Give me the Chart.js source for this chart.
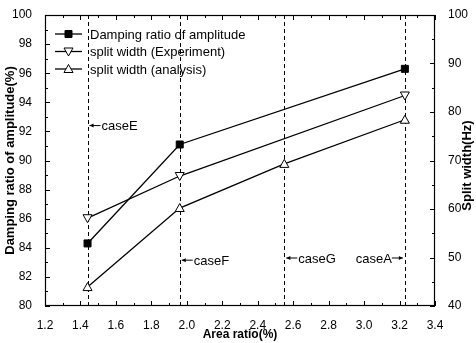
<!DOCTYPE html>
<html>
<head>
<meta charset="utf-8">
<script src="https://cdn.jsdelivr.net/npm/chart.js@4/dist/chart.umd.min.js"></script>
<style>
  html, body { margin: 0; padding: 0; background: #fff; }
  #wrap { width: 476px; height: 343px; }
</style>
</head>
<body>
<div id="wrap"><canvas id="grafico"></canvas></div>
<script>
// datos
const areaRatio = [1.44, 1.96, 3.23];
const dampingRatio = [84.3, 91.1, 96.3];
const splitExperiment = [58.1, 66.8, 83.4];
const areaRatioAnalysis = [1.44, 1.96, 2.55, 3.23];
const splitAnalysis = [43.9, 60.2, 69.3, 78.4];

const caseNames = ['caseE', 'caseF', 'caseG', 'caseA'];
const casePos = [1.44, 1.96, 2.55, 3.23];
const caseLabelY = [92.4, 83.15, 83.3, 83.3]; // en unidades del eje izquierdo
const caseArrowDir = ['left', 'left', 'left', 'right'];

const legendNames = ['Damping ratio of amplitude', 'split width (Experiment)', 'split width (analysis)'];
const rightTitle = 'Split width(Hz)';

const FONT = '"Liberation Sans", Arial, sans-serif';

const pts = (xs, ys) => xs.map((x, i) => ({ x, y: ys[i] }));

function marcador(ctx, tipo, x, y) {
    ctx.save();
    ctx.lineWidth = 1;
    ctx.strokeStyle = '#000';
    ctx.fillStyle = tipo === 'rect' ? '#000' : '#fff';
    ctx.beginPath();
    if (tipo === 'rect') {
        ctx.rect(x - 3.5, y - 3.5, 7, 7);
    } else if (tipo === 'down') {
        ctx.moveTo(x - 4.5, y - 3.5); ctx.lineTo(x + 4.5, y - 3.5); ctx.lineTo(x, y + 4.5); ctx.closePath();
    } else {
        ctx.moveTo(x - 4.5, y + 3.5); ctx.lineTo(x + 4.5, y + 3.5); ctx.lineTo(x, y - 4.5); ctx.closePath();
    }
    ctx.fill();
    ctx.stroke();
    ctx.restore();
}

const extras = {
    id: 'extras',
    beforeDatasetsDraw(chart) {
        const ctx = chart.ctx;
        const a = chart.chartArea;
        const xs = chart.scales.x;
        ctx.save();
        ctx.strokeStyle = '#000';
        ctx.lineWidth = 1;
        ctx.setLineDash([4, 3]);
        casePos.forEach(v => {
            const px = Math.round(xs.getPixelForValue(v)) + 0.5;
            ctx.beginPath();
            ctx.moveTo(px, a.top);
            ctx.lineTo(px, a.bottom);
            ctx.stroke();
        });
        ctx.restore();
    },
    afterDatasetsDraw(chart) {
        const ctx = chart.ctx;
        const a = chart.chartArea;
        const xs = chart.scales.x, yl = chart.scales.y, yr = chart.scales.y2;
        ctx.save();
        ctx.strokeStyle = '#000';
        ctx.lineWidth = 1.2;
        ctx.strokeRect(a.left + 0.5, a.top + 0.5, a.right - a.left - 1, a.bottom - a.top - 1);

        // ticks hacia adentro
        ctx.lineWidth = 1;
        ctx.beginPath();
        for (let i = 0; i <= 22; i++) {
            const v = 1.2 + i * 0.1;
            const px = Math.round(xs.getPixelForValue(v)) + 0.5;
            const len = i % 2 === 0 ? 5 : 3;
            ctx.moveTo(px, a.bottom); ctx.lineTo(px, a.bottom - len);
            ctx.moveTo(px, a.top); ctx.lineTo(px, a.top + len);
        }
        for (let v = 80; v <= 100; v++) {
            const py = Math.round(yl.getPixelForValue(v)) + 0.5;
            const len = v % 2 === 0 ? 5 : 3;
            ctx.moveTo(a.left, py); ctx.lineTo(a.left + len, py);
        }
        for (let v = 40; v <= 100; v += 5) {
            const py = Math.round(yr.getPixelForValue(v)) + 0.5;
            const len = v % 10 === 0 ? 5 : 3;
            ctx.moveTo(a.right, py); ctx.lineTo(a.right - len, py);
        }
        ctx.stroke();

        // titulo derecho, de abajo hacia arriba
        ctx.save();
        ctx.translate(467, (a.top + a.bottom) / 2 + 5);
        ctx.rotate(-Math.PI / 2);
        ctx.font = 'bold 13px ' + FONT;
        ctx.fillStyle = '#000';
        ctx.textAlign = 'center';
        ctx.textBaseline = 'middle';
        ctx.fillText(rightTitle, 0, 0);
        ctx.restore();

        // leyenda
        ctx.font = '13px ' + FONT;
        ctx.fillStyle = '#000';
        ctx.textBaseline = 'middle';
        const tipos = ['rect', 'down', 'up'];
        legendNames.forEach((t, i) => {
            const y = 34 + i * 17.5;
            ctx.lineWidth = 1.3;
            ctx.beginPath();
            ctx.moveTo(55, y); ctx.lineTo(82, y);
            ctx.stroke();
            marcador(ctx, tipos[i], 68.5, y);
            ctx.fillText(t, 90, y + 1);
        });

        // etiquetas de casos
        caseNames.forEach((n, i) => {
            const px = xs.getPixelForValue(casePos[i]);
            const py = yl.getPixelForValue(caseLabelY[i]);
            ctx.lineWidth = 1;
            ctx.beginPath();
            if (caseArrowDir[i] === 'left') {
                ctx.moveTo(px + 2, py); ctx.lineTo(px + 13, py);
                ctx.stroke();
                ctx.beginPath();
                ctx.moveTo(px + 2, py); ctx.lineTo(px + 6, py - 2); ctx.lineTo(px + 6, py + 2); ctx.closePath();
                ctx.fill();
                ctx.textAlign = 'left';
                ctx.fillText(n, px + 14, py + 1);
            } else {
                ctx.moveTo(px - 2, py); ctx.lineTo(px - 13, py);
                ctx.stroke();
                ctx.beginPath();
                ctx.moveTo(px - 2, py); ctx.lineTo(px - 6, py - 2); ctx.lineTo(px - 6, py + 2); ctx.closePath();
                ctx.fill();
                ctx.textAlign = 'right';
                ctx.fillText(n, px - 13, py + 1);
            }
        });
        ctx.restore();
    }
};

const estilo = (tipo) => ({
    borderColor: '#000',
    borderWidth: 1.3,
    pointRadius: 0,
    pointHoverRadius: 0,
    tension: 0,
    _marca: tipo
});

const marcas = {
    id: 'marcas',
    afterDatasetsDraw(chart) {
        chart.data.datasets.forEach((ds, i) => {
            const meta = chart.getDatasetMeta(i);
            meta.data.forEach(p => marcador(chart.ctx, ds._marca, p.x, p.y));
        });
    }
};

new Chart(document.getElementById('grafico'), {
    type: 'line',
    data: {
        datasets: [
            { label: legendNames[0], data: pts(areaRatio, dampingRatio), yAxisID: 'y', ...estilo('rect') },
            { label: legendNames[1], data: pts(areaRatio, splitExperiment), yAxisID: 'y2', ...estilo('down') },
            { label: legendNames[2], data: pts(areaRatioAnalysis, splitAnalysis), yAxisID: 'y2', ...estilo('up') }
        ]
    },
    options: {
        responsive: true,
        maintainAspectRatio: false,
        animation: false,
        layout: { padding: { top: 15 } },
        plugins: { legend: { display: false }, tooltip: { enabled: false } },
        scales: {
            x: {
                type: 'linear', min: 1.2, max: 3.4,
                afterFit: s => { s.height = 37; },
                grid: { display: false },
                border: { display: false },
                ticks: { stepSize: 0.2, padding: 4, color: '#000', font: { family: FONT, size: 12 }, callback: v => v.toFixed(1) },
                title: { display: true, text: 'Area ratio(%)', color: '#000', font: { family: FONT, size: 12, weight: 'bold' }, padding: { top: 0, bottom: 1 } }
            },
            y: {
                position: 'left', min: 80, max: 100,
                afterFit: s => { s.width = 45; },
                grid: { display: false },
                border: { display: false },
                ticks: { stepSize: 2, padding: 5, color: '#000', font: { family: FONT, size: 12 } },
                title: { display: true, text: 'Damping ratio of amplitude(%)', color: '#000', font: { family: FONT, size: 13, weight: 'bold' }, padding: { top: 3, bottom: 0 } }
            },
            y2: {
                position: 'right', min: 40, max: 100,
                afterFit: s => { s.width = 41; },
                grid: { display: false },
                border: { display: false },
                ticks: { stepSize: 10, padding: 5, color: '#000', font: { family: FONT, size: 12 } }
            }
        }
    },
    plugins: [extras, marcas]
});
</script>
</body>
</html>
